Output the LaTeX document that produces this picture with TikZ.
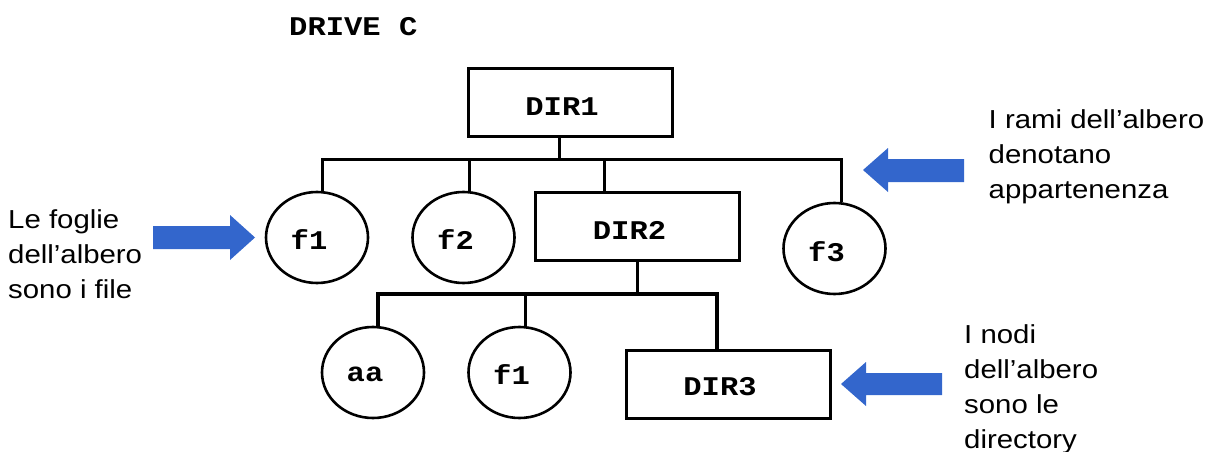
\documentclass[tikz,border=0pt]{standalone}
\usepackage{fontspec}
\usetikzlibrary{shapes.geometric}
\setmainfont{Liberation Sans}[FakeStretch=1.13]
\newfontfamily\monob{Liberation Mono}[FakeStretch=1.13]
\definecolor{arrowblue}{RGB}{51,102,204}
\tikzset{
  tag/.style={font=\monob\bfseries\fontsize{27}{27}\selectfont, inner sep=0},
  dirbox/.style={draw, rectangle, line width=3pt, minimum width=204pt, minimum height=68pt, inner sep=0},
  filenode/.style={draw, ellipse, line width=2.6pt, minimum width=102pt, minimum height=91pt, inner sep=0},
  branch/.style={line width=3pt, line join=miter},
  mainbranch/.style={line width=4pt, line join=miter},
  note/.style={font=\fontsize{26}{35}\selectfont, align=left, anchor=base west, inner sep=0},
  notearrow/.style={fill=arrowblue}
}
\begin{document}
\begin{tikzpicture}[x=1pt,y=-1pt]
\useasboundingbox (0,0) rectangle (1215,452);

\node[tag, anchor=base west] (drive) at (289,36) {DRIVE C};

% directories
\node[dirbox, label={[tag, xshift=-8pt, yshift=-4pt]center:DIR1}] (dir1) at (570,102.5) {};
\node[dirbox, label={[tag, xshift=-8pt, yshift=-4pt]center:DIR2}] (dir2) at (637.5,226) {};
\node[dirbox, label={[tag, xshift=-8pt, yshift=-3pt]center:DIR3}] (dir3) at (728,384) {};

% files
\node[filenode, label={[tag, xshift=-8pt, yshift=-2pt]center:f1}] (f1) at (317,237.5) {};
\node[filenode, label={[tag, xshift=-8pt, yshift=-2pt]center:f2}] (f2) at (463.5,237.5) {};
\node[filenode, label={[tag, xshift=-8pt, yshift=-3pt]center:f3}] (f3) at (834.5,248.5) {};
\node[filenode, label={[tag, xshift=-8pt, yshift=-2pt]center:aa}] (aa) at (373,372.5) {};
\node[filenode, label={[tag, xshift=-8pt, yshift=-2pt]center:f1}] (f1b) at (519.5,372.5) {};

% junctions of the first level
\coordinate (r1) at (559,159);
\coordinate (bL) at (322,159);
\coordinate (b2) at (469,159);
\coordinate (b3) at (604,159);
\coordinate (bR) at (841,159);
\draw[branch] (r1 |- dir1.south) -- (r1);
\draw[branch] (bL |- f1.north) -- (bL) -- (bR) -- (bR |- f3.north);
\draw[branch] (b2) -- (b2 |- f2.north);
\draw[branch] (b3) -- (b3 |- dir2.north);

% junctions of the second level
\coordinate (r2) at (637,294);
\coordinate (cL) at (378,294);
\coordinate (c2) at (525,294);
\coordinate (cR) at (717,294);
\draw[branch] (r2 |- dir2.south) -- (r2);
\draw[mainbranch] (cL |- aa.north) -- (cL) -- (cR) -- (cR |- dir3.north);
\draw[branch] (c2) -- (c2 |- f1b.north);

% blue arrows
\fill[notearrow] (153,226) -- (230,226) -- (230,215) -- (255,237.5) -- (230,260) -- (230,249) -- (153,249) -- cycle;
\fill[notearrow] (964,159) -- (888,159) -- (888,148) -- (863,170) -- (888,192) -- (888,182) -- (964,182) -- cycle;
\fill[notearrow] (942,373) -- (866,373) -- (866,362) -- (841,384) -- (866,406) -- (866,395) -- (942,395) -- cycle;

% notes (anchor at the baseline of the last line)
\node[note] (t1) at (8,298) {Le foglie\\dell’albero\\sono i file};
\node[note] (t2) at (988.5,198.5) {I rami dell’albero\\denotano\\appartenenza};
\node[note] (t3) at (964,448) {I nodi\\dell’albero\\sono le\\directory};
\end{tikzpicture}
\end{document}
